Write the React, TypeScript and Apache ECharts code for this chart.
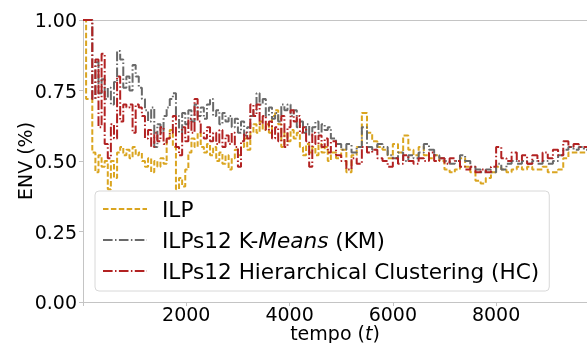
import React, { useEffect, useRef } from "react";
import * as echarts from "echarts";

const tempo = [
  0, 60, 120, 180, 240, 300, 360, 420, 480, 540,
  600, 660, 720, 780, 840, 900, 960, 1020, 1080, 1140,
  1200, 1260, 1320, 1380, 1440, 1500, 1560, 1620, 1680, 1740,
  1800, 1860, 1920, 1980, 2040, 2100, 2160, 2220, 2280, 2340,
  2400, 2460, 2520, 2580, 2640, 2700, 2760, 2820, 2880, 2940,
  3000, 3060, 3120, 3180, 3240, 3300, 3360, 3420, 3480, 3540,
  3600, 3660, 3720, 3780, 3840, 3900, 3960, 4020, 4080, 4140,
  4200, 4260, 4320, 4380, 4440, 4500, 4560, 4620, 4680, 4740,
  4800, 4900, 5000, 5100, 5200, 5300, 5400, 5500, 5600, 5700,
  5800, 5900, 6000, 6100, 6200, 6300, 6400, 6500, 6600, 6700,
  6800, 6900, 7000, 7100, 7200, 7300, 7400, 7500, 7600, 7700,
  7800, 7900, 8000, 8100, 8200, 8300, 8400, 8500, 8600, 8700,
  8800, 8900, 9000, 9100, 9200, 9300, 9400, 9500, 9600, 9700,
  9760,
];

const ilp = [
  1.0, 0.72, 0.72, 0.53, 0.46, 0.52, 0.48, 0.5, 0.4, 0.5,
  0.44, 0.53, 0.55, 0.52, 0.54, 0.51, 0.55, 0.52, 0.53, 0.5,
  0.48, 0.51, 0.46, 0.5, 0.48, 0.51, 0.49, 0.58, 0.61, 0.55,
  0.4, 0.44, 0.41, 0.47, 0.53, 0.58, 0.55, 0.6, 0.55, 0.53,
  0.56, 0.52, 0.55, 0.5, 0.53, 0.49, 0.52, 0.47, 0.51, 0.54,
  0.52, 0.55, 0.58, 0.54, 0.6, 0.63, 0.6, 0.64, 0.61, 0.63,
  0.6, 0.66, 0.68, 0.63, 0.55, 0.6, 0.57, 0.61, 0.58, 0.6,
  0.55, 0.52, 0.56, 0.53, 0.55, 0.52, 0.56, 0.53, 0.55, 0.5,
  0.53, 0.51, 0.54, 0.46, 0.52, 0.55, 0.67, 0.6, 0.57, 0.55,
  0.54, 0.51, 0.56, 0.53, 0.59, 0.54, 0.52, 0.55, 0.52, 0.51,
  0.52, 0.5, 0.47, 0.46, 0.47, 0.51, 0.48, 0.46, 0.43, 0.42,
  0.44, 0.46, 0.48, 0.47, 0.46, 0.47, 0.48, 0.47, 0.48, 0.47,
  0.47, 0.48, 0.46, 0.46, 0.47, 0.51, 0.53, 0.53, 0.53, 0.53,
  0.53,
];

const km = [
  1.0, 1.0, 1.0, 0.72, 0.85, 0.74, 0.79, 0.72, 0.76, 0.7,
  0.78, 0.89, 0.86, 0.76, 0.8, 0.75, 0.84, 0.8, 0.76, 0.72,
  0.68, 0.64, 0.69, 0.55, 0.63, 0.6, 0.66, 0.69, 0.72, 0.74,
  0.66, 0.6, 0.67, 0.63, 0.68, 0.64, 0.7, 0.66, 0.69, 0.65,
  0.7, 0.72, 0.66, 0.68, 0.63, 0.67, 0.64, 0.66, 0.62, 0.65,
  0.6, 0.64, 0.59, 0.62, 0.66, 0.68, 0.74, 0.7, 0.72, 0.66,
  0.69, 0.65, 0.67, 0.64, 0.7, 0.68, 0.7, 0.66, 0.68, 0.62,
  0.64, 0.6, 0.63, 0.59, 0.62, 0.64, 0.6, 0.63, 0.61, 0.62,
  0.58, 0.56, 0.54, 0.56, 0.53, 0.55, 0.62, 0.55, 0.54, 0.56,
  0.55, 0.52, 0.51, 0.53, 0.5, 0.52, 0.51, 0.53, 0.56, 0.54,
  0.52, 0.51, 0.5, 0.49, 0.5, 0.52, 0.5, 0.48, 0.47, 0.46,
  0.47, 0.46, 0.49, 0.47, 0.49, 0.5, 0.49, 0.5, 0.49, 0.5,
  0.49, 0.5, 0.49, 0.5, 0.52, 0.54, 0.55, 0.54, 0.55, 0.54,
  0.54,
];

const hc = [
  1.0, 1.0, 1.0, 0.72, 0.86, 0.62, 0.88, 0.56, 0.51, 0.63,
  0.58, 0.8, 0.64, 0.7, 0.69, 0.7, 0.6, 0.7, 0.69, 0.66,
  0.58, 0.61, 0.55, 0.6, 0.57, 0.62, 0.56, 0.58, 0.6, 0.66,
  0.55, 0.52, 0.62, 0.57, 0.65, 0.6, 0.72, 0.64, 0.6, 0.58,
  0.62, 0.57, 0.6, 0.56, 0.61, 0.55, 0.59, 0.56, 0.6, 0.55,
  0.48, 0.57, 0.6, 0.58, 0.7, 0.66, 0.7, 0.63, 0.66, 0.61,
  0.64, 0.58, 0.62, 0.57, 0.66, 0.55, 0.62, 0.68, 0.64, 0.66,
  0.6, 0.62, 0.57, 0.48, 0.6, 0.56, 0.59, 0.55, 0.58, 0.53,
  0.57, 0.52, 0.5, 0.47, 0.51, 0.49, 0.55, 0.53, 0.54, 0.51,
  0.5, 0.48, 0.51, 0.49, 0.52, 0.5, 0.49, 0.51, 0.5, 0.53,
  0.5, 0.51, 0.49, 0.51, 0.5, 0.48, 0.47, 0.48, 0.46, 0.47,
  0.46, 0.48, 0.55, 0.51, 0.5, 0.53, 0.5, 0.52, 0.49, 0.52,
  0.5, 0.53, 0.51, 0.54, 0.52, 0.57, 0.55, 0.56, 0.55, 0.55,
  0.55,
];

const seriesNames = ["ILP", "ILPs12 K-Means (KM)", "ILPs12 Hierarchical Clustering (HC)"];
const seriesColors = ["#DAA520", "#696969", "#B22222"];
const yTicks = [0, 0.25, 0.5, 0.75, 1.0];
const xTicks = [2000, 4000, 6000, 8000];

export default function App() {
  const ref = useRef<HTMLDivElement>(null);
  useEffect(() => {
    const chart = echarts.init(ref.current!, null, { renderer: "svg" });
    const font = "DejaVu Sans";
    const spine = "#c4c4c4";
    const pair = (ys: number[]) => tempo.map((t, i) => [t, ys[i]]);
    const dashes = [[5.5, 2.4], [9.6, 2.4, 1.5, 2.4], [9.6, 2.4, 1.5, 2.4]];
    const values = [ilp, km, hc];
    chart.setOption({
      animation: false,
      grid: { left: 83, right: 0, top: 20, bottom: 41, outerBoundsMode: "none", containLabel: false },
      xAxis: [
        {
          type: "value",
          min: 0,
          max: 9760,
          interval: 2000,
          name: "tempo ({it|t})",
          nameLocation: "middle",
          nameGap: 21,
          nameMoveOverlap: false,
          nameTextStyle: {
            fontFamily: font,
            fontSize: 19,
            color: "#000",
            rich: { it: { fontFamily: font, fontSize: 19, fontStyle: "italic", color: "#000" } },
          },
          axisLine: { show: true, lineStyle: { color: spine, width: 1 } },
          axisTick: { show: true, length: 4, lineStyle: { color: spine } },
          axisLabel: {
            fontFamily: font,
            fontSize: 19,
            color: "#000",
            margin: 2,
            formatter: (v: number) => (xTicks.indexOf(v) >= 0 ? String(v) : ""),
          },
          splitLine: { show: false },
        },
        {
          type: "value",
          position: "top",
          min: 0,
          max: 9760,
          axisLine: { show: true, lineStyle: { color: spine, width: 1 } },
          axisTick: { show: false },
          axisLabel: { show: false },
          splitLine: { show: false },
        },
      ],
      yAxis: {
        type: "value",
        min: 0,
        max: 1,
        interval: 0.25,
        name: "ENV (%)",
        nameLocation: "middle",
        nameGap: 49,
        nameMoveOverlap: false,
        nameTextStyle: { fontFamily: font, fontSize: 19, color: "#000" },
        axisLine: { show: true, lineStyle: { color: spine, width: 1 } },
        axisTick: { show: true, length: 4, lineStyle: { color: spine } },
        axisLabel: {
          fontFamily: font,
          fontSize: 19,
          color: "#000",
          margin: 6,
          padding: [3, 0, 0, 0],
          formatter: (v: number) => (yTicks.indexOf(v) >= 0 ? v.toFixed(2) : ""),
        },
        splitLine: { show: false },
      },
      legend: {
        orient: "vertical",
        left: 95,
        top: 191,
        padding: [7, 10, 9, 7],
        itemWidth: 44,
        itemHeight: 19,
        itemGap: 9,
        selectedMode: false,
        backgroundColor: "rgba(255,255,255,0.8)",
        borderColor: "#d8d8d8",
        borderWidth: 1,
        borderRadius: 4,
        itemStyle: { opacity: 0 },
        textStyle: {
          fontFamily: font,
          fontSize: 21.6,
          color: "#000",
          padding: [0, 0, 0, 10],
          rich: { it: { fontFamily: font, fontSize: 21.6, fontStyle: "italic", color: "#000" } },
        },
        formatter: (name: string) => (name === seriesNames[1] ? "ILPs12 K-{it|Means} (KM)" : name),
        data: seriesNames,
      },
      series: seriesNames.map((name, k) => ({
        name,
        type: "line",
        step: "end",
        symbol: "none",
        showSymbol: false,
        data: pair(values[k]),
        color: seriesColors[k],
        lineStyle: { color: seriesColors[k], width: 2, type: dashes[k] },
        itemStyle: { color: seriesColors[k] },
      })),
    });
    return () => chart.dispose();
  }, []);
  return <div ref={ref} style={{ position: "fixed", left: 0, top: 0, width: 587, height: 343 }} />;
}
